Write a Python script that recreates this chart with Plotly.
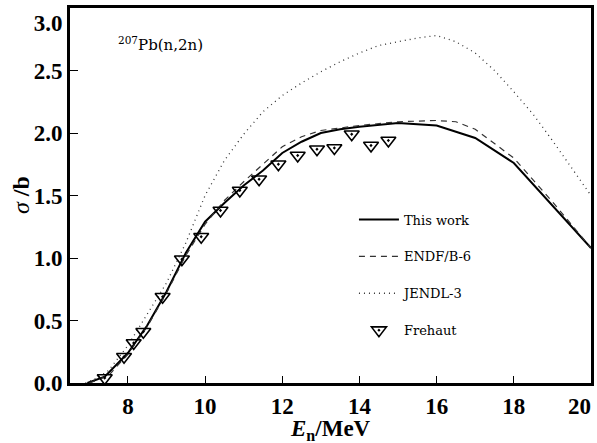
import plotly.graph_objects as go

# ---- data ----
this_E = [6.95, 7.4, 8.0, 8.5, 9.0, 9.5, 10.0, 10.5, 11.0, 11.5, 12.0, 12.5, 13.0, 13.5, 14.0, 15.0, 16.0, 17.0, 18.0, 19.0, 20.0]
this_s = [0.0, 0.05, 0.24, 0.46, 0.73, 1.04, 1.29, 1.44, 1.58, 1.70, 1.84, 1.93, 2.00, 2.03, 2.05, 2.08, 2.06, 1.96, 1.76, 1.42, 1.08]

endf_E = [7.0, 7.5, 8.0, 8.5, 9.0, 9.5, 10.0, 10.5, 11.0, 11.5, 12.0, 12.5, 13.0, 14.0, 15.0, 16.0, 16.5, 17.0, 18.0, 19.0, 20.0]
endf_s = [0.0, 0.06, 0.23, 0.45, 0.72, 1.02, 1.27, 1.46, 1.61, 1.75, 1.89, 1.97, 2.02, 2.06, 2.09, 2.10, 2.09, 2.03, 1.80, 1.45, 1.08]

jendl_E = [6.9, 7.2, 7.5, 8.0, 8.5, 9.0, 9.5, 10.0, 10.5, 11.0, 11.5, 12.0, 12.5, 13.0, 13.5, 14.0, 14.5, 15.0, 15.5, 16.0, 16.5, 17.0, 17.5, 18.0, 18.5, 19.0, 19.5, 20.0]
jendl_s = [0.0, 0.04, 0.10, 0.30, 0.55, 0.80, 1.12, 1.50, 1.78, 1.99, 2.17, 2.30, 2.40, 2.49, 2.57, 2.64, 2.70, 2.73, 2.76, 2.78, 2.73, 2.64, 2.50, 2.33, 2.15, 1.94, 1.72, 1.50]

fre_E = [7.4, 7.9, 8.15, 8.4, 8.9, 9.4, 9.9, 10.4, 10.9, 11.4, 11.9, 12.4, 12.9, 13.35, 13.8, 14.3, 14.75]
fre_s = [0.04, 0.21, 0.32, 0.41, 0.69, 0.99, 1.17, 1.38, 1.54, 1.63, 1.75, 1.82, 1.87, 1.88, 1.99, 1.90, 1.94]

x_major = 2
y_major = 0.5
x_label_alias = {"20": "20\u2007\u2007"}
y_label_alias = {"3.0": "<br>3.0"}
xrange_ = [6.5, 20]
yrange_ = [0, 3]

fig = go.Figure()
fig.add_trace(go.Scatter(x=this_E, y=this_s, mode="lines", name="This work",
                         line=dict(color="black", width=2), legendgroup="a"))
fig.add_trace(go.Scatter(x=endf_E, y=endf_s, mode="lines", name="ENDF/B-6",
                         line=dict(color="#333", width=1.2, dash="6px,5px"), legendgroup="b"))
fig.add_trace(go.Scatter(x=jendl_E, y=jendl_s, mode="lines", name="JENDL-3",
                         line=dict(color="#333", width=1.3, dash="1px,4px"), legendgroup="c"))
fig.add_trace(go.Scatter(x=fre_E, y=fre_s, mode="markers", name="Frehaut",
                         marker=dict(symbol="triangle-down-open-dot", size=13, color="black",
                                     line=dict(width=1.6, color="black")), legendgroup="d"))

tickfont = dict(family="Liberation Serif", size=23, color="black", weight="bold")

fig.update_layout(
    width=597, height=443,
    margin=dict(l=70, r=6, t=8, b=60, autoexpand=False),
    paper_bgcolor="white", plot_bgcolor="white",
    showlegend=True,
    legend=dict(x=0.545, y=0.476, xanchor="left", yanchor="top",
                font=dict(family="DejaVu Serif", size=13, color="black"),
                tracegroupgap=17, bgcolor="rgba(0,0,0,0)", itemwidth=40),
    xaxis=dict(range=xrange_, tickmode="linear", tick0=0, dtick=x_major,
               labelalias=x_label_alias,
               ticks="inside", ticklen=7, tickcolor="black",
               showline=True, linewidth=3, linecolor="black", mirror=True,
               ticklabeloverflow="allow", automargin=False,
               showgrid=False, zeroline=False, tickfont=tickfont),
    yaxis=dict(range=yrange_, tickmode="linear", tick0=0, dtick=y_major, tickformat=".1f",
               labelalias=y_label_alias,
               ticks="inside", ticklen=8, tickcolor="black",
               showline=True, linewidth=3, linecolor="black", mirror=True,
               ticklabeloverflow="allow", automargin=False,
               showgrid=False, zeroline=False, tickfont=tickfont),
    annotations=[
        dict(text="<b><i>E</i><sub>n</sub>/MeV</b>", xref="paper", yref="paper",
             x=0.5, y=-0.083, xanchor="center", yanchor="top", showarrow=False,
             font=dict(family="Liberation Serif", size=23, color="black")),
        dict(text="<i>σ</i><b> /b</b>", xref="paper", yref="paper",
             x=-0.095, y=0.5, xanchor="center", yanchor="middle", showarrow=False, textangle=-90,
             font=dict(family="Liberation Serif", size=24, color="black")),
        dict(text="<sup>207</sup>Pb(n,2n)", xref="paper", yref="paper",
             x=0.088, y=0.905, xanchor="left", yanchor="middle", showarrow=False,
             font=dict(family="DejaVu Serif", size=15, color="black")),
    ],
)

fig.write_html("out.html")
